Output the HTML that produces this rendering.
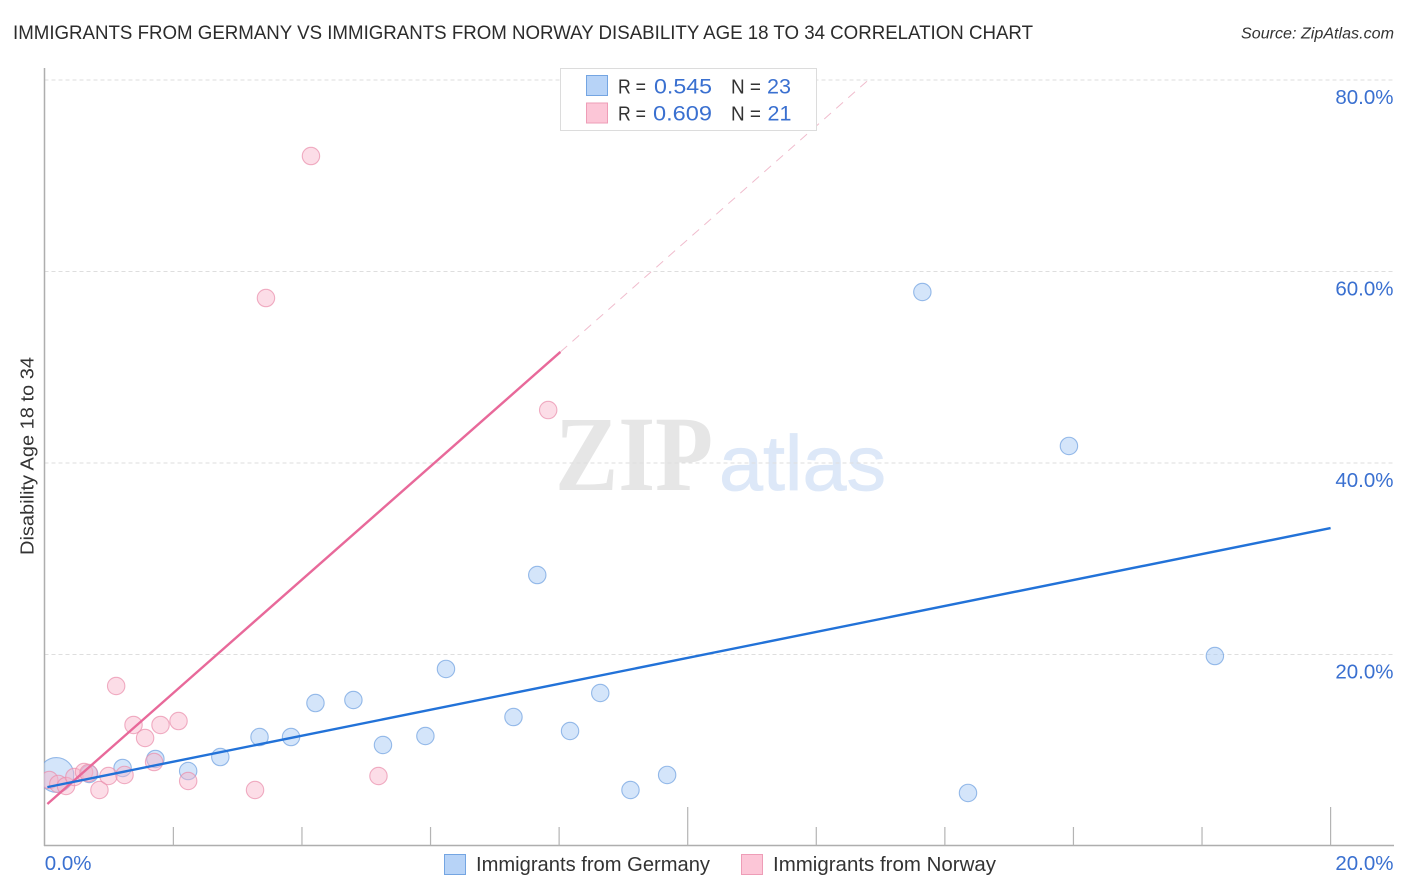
<!DOCTYPE html>
<html lang="en">
<head>
<meta charset="utf-8">
<title>Immigrants from Germany vs Immigrants from Norway Disability Age 18 to 34 Correlation Chart</title>
<style>
html,body{margin:0;padding:0;background:#fff;width:1406px;height:892px;overflow:hidden}
svg{display:block}
text{font-family:"Liberation Sans",sans-serif}
</style>
</head>
<body>
<svg id="chart" xmlns="http://www.w3.org/2000/svg" width="1406" height="892" viewBox="0 0 1406 892">
  <defs><clipPath id="plot-clip"><rect x="44" y="68" width="1350" height="778"/></clipPath></defs>
  <text x="13" y="39" font-size="19.5" fill="#2b2b2b" textLength="1020" lengthAdjust="spacingAndGlyphs">IMMIGRANTS FROM GERMANY VS IMMIGRANTS FROM NORWAY DISABILITY AGE 18 TO 34 CORRELATION CHART</text>
  <text x="1241" y="38.500" font-size="15.500" font-style="italic" fill="#333" textLength="153" lengthAdjust="spacingAndGlyphs">Source: ZipAtlas.com</text>
  <g>
    <text x="555" y="490" font-size="107" font-weight="bold" fill="#e6e6e6" textLength="158" lengthAdjust="spacingAndGlyphs" style="font-family:'Liberation Serif',serif">ZIP</text>
    <text x="719" y="490" font-size="78" fill="#dde8f8" stroke="#dde8f8" stroke-width="0.8" textLength="167" lengthAdjust="spacingAndGlyphs">atlas</text>
  </g>
  <g id="grid"></g>
  <g id="axes"></g>
  <g id="marks" clip-path="url(#plot-clip)"></g>
  <g id="trends"></g>
  <text transform="translate(33.500,555) rotate(-90)" font-size="18" fill="#333" textLength="198" lengthAdjust="spacingAndGlyphs">Disability Age 18 to 34</text>
  <g id="tick-labels"></g>

  <g>
    <rect x="560.500" y="68.500" width="256" height="62" fill="#fff" stroke="#dcdcdc" stroke-width="1"/>
    <rect x="586.500" y="75.500" width="21" height="20" fill="#b7d3f7" stroke="#74a5e2" stroke-width="1"/>
    <rect x="586.500" y="103" width="21" height="20" fill="#fcc6d7" stroke="#ee9db7" stroke-width="1"/>
    <text x="618" y="93.500" font-size="20" fill="#333" textLength="28" lengthAdjust="spacingAndGlyphs">R =</text>
    <text x="654" y="93.500" font-size="21.500" fill="#3a70d0" textLength="58" lengthAdjust="spacingAndGlyphs">0.545</text>
    <text x="731" y="93.500" font-size="20" fill="#333" textLength="30" lengthAdjust="spacingAndGlyphs">N =</text>
    <text x="767" y="93.500" font-size="21.500" fill="#3a70d0" textLength="24" lengthAdjust="spacingAndGlyphs">23</text>
    <text x="618" y="120.500" font-size="20" fill="#333" textLength="28" lengthAdjust="spacingAndGlyphs">R =</text>
    <text x="653" y="120.500" font-size="21.500" fill="#3a70d0" textLength="59" lengthAdjust="spacingAndGlyphs">0.609</text>
    <text x="731" y="120.500" font-size="20" fill="#333" textLength="30" lengthAdjust="spacingAndGlyphs">N =</text>
    <text x="767.500" y="120.500" font-size="21.500" fill="#3a70d0">21</text>
  </g>

  <g>
    <g>
      <rect x="444.500" y="854.500" width="21" height="20" fill="#b7d3f7" stroke="#74a5e2" stroke-width="1"/>
      <text x="476" y="871" font-size="20" fill="#333" textLength="234" lengthAdjust="spacingAndGlyphs">Immigrants from Germany</text>
    </g>
    <g>
      <rect x="741.500" y="854.500" width="21" height="20" fill="#fcc6d7" stroke="#ee9db7" stroke-width="1"/>
      <text x="773" y="871" font-size="20" fill="#333" textLength="223" lengthAdjust="spacingAndGlyphs">Immigrants from Norway</text>
    </g>
  </g>
</svg>
<script>
// ---- chart data (percent units) ----
const germanyX = [0.18,0.69,1.21,1.72,2.23,2.73,3.34,3.83,4.21,4.80,5.26,5.92,6.24,7.29,7.66,8.17,8.64,9.11,9.68,13.65,14.36,15.93,18.20];
const germanyY = [7.42,7.52,8.15,9.09,7.83,9.29,11.38,11.38,14.93,15.25,10.55,11.49,18.49,13.47,28.30,12.01,15.98,5.85,7.42,57.86,5.54,41.78,19.84];
const germanyWeight = [4,1,1,1,1,1,1,1,1,1,1,1,1,1,1,1,1,1,1,1,1,1,1];
const norwayX = [0.07,0.21,0.33,0.46,0.61,0.68,0.85,0.99,1.24,1.11,1.38,1.56,1.70,1.80,2.08,2.23,3.27,3.44,4.14,5.19,7.83];
const norwayY = [6.89,6.48,6.27,7.21,7.73,7.62,5.85,7.31,7.42,16.71,12.64,11.28,8.77,12.64,13.05,6.79,5.85,57.23,72.06,7.31,45.53];
const germanyTrendX = [0.04,20];
const germanyTrendY = [6.15,33.2];
const norwayTrendX = [0.04,8.02];
const norwayTrendY = [4.39,51.6];
const norwayDashX = [8.02,12.81];
const norwayDashY = [51.6,80];
const yTicks = [20,40,60,80];
const yTickLabels = ["20.0%","40.0%","60.0%","80.0%"];
const xMinorTicks = [2,4,6,8,10,12,14,16,18,20];
const xMajorTicks = [10,20];
const xTickLabels = ["0.0%","20.0%"];

// ---- axis functions ----
function xScale(v){ return 44.8 + v * 64.29; }
function yScale(v){ return 846 - v * 9.575; }

const NS = 'http://www.w3.org/2000/svg';
function make(tag, parent, attrs){
  const el = document.createElementNS(NS, tag);
  for (const k in attrs) el.setAttribute(k, attrs[k]);
  parent.appendChild(el);
  return el;
}

const grid = document.getElementById('grid');
const axes = document.getElementById('axes');
const marks = document.getElementById('marks');
const trends = document.getElementById('trends');
const tickLabels = document.getElementById('tick-labels');

yTicks.forEach(function(t, i){
  const yy = yScale(t);
  const g = make('line', grid, {x1:44.5, x2:1394, y1:yy, y2:yy, stroke:'#dedede', 'stroke-width':1, 'stroke-dasharray':'4 3'});
  
  
  const lab = make('text', tickLabels, {x:1393.5, y:yy + 24, 'text-anchor':'end', 'font-size':20.5, fill:'#3a70d0'});
  lab.textContent = yTickLabels[i];
  
  
});

const yAxis = make('line', axes, {x1:44.5, x2:44.5, y1:68, y2:846, stroke:'#aeaeae', 'stroke-width':1.5});


const xAxis = make('line', axes, {x1:44, x2:1394, y1:845.5, y2:845.5, stroke:'#aeaeae', 'stroke-width':1.5});



xMinorTicks.forEach(function(t){
  const xx = xScale(t);
  const top = xMajorTicks.indexOf(t) >= 0 ? 807 : 827;
  const tick = make('line', axes, {x1:xx, x2:xx, y1:top, y2:845.5, stroke:'#b4b4b4', 'stroke-width':1.2});
  
  
});

const xLab0 = make('text', tickLabels, {x:xScale(0), y:870, 'font-size':20.5, fill:'#3a70d0'});
xLab0.textContent = xTickLabels[0];


const xLab1 = make('text', tickLabels, {x:1393.5, y:870, 'text-anchor':'end', 'font-size':20.5, fill:'#3a70d0'});
xLab1.textContent = xTickLabels[1];



germanyX.forEach(function(v, i){
  const c = make('circle', marks, {cx:xScale(v), cy:yScale(germanyY[i]), r:8.7 * Math.sqrt(germanyWeight[i]), fill:'#a9cbf5', 'fill-opacity':0.5, stroke:'#6d9fe0', 'stroke-opacity':0.7, 'stroke-width':1.1});
  
  
});
norwayX.forEach(function(v, i){
  const c = make('circle', marks, {cx:xScale(v), cy:yScale(norwayY[i]), r:8.7, fill:'#f8b4ca', 'fill-opacity':0.45, stroke:'#ea8dab', 'stroke-opacity':0.7, 'stroke-width':1.1});
  
  
});

const pinkDash = make('line', trends, {x1:xScale(norwayDashX[0]), y1:yScale(norwayDashY[0]), x2:xScale(norwayDashX[1]), y2:yScale(norwayDashY[1]), stroke:'#f0bccd', 'stroke-width':1, 'stroke-dasharray':'9 7'});


const pinkLine = make('line', trends, {x1:xScale(norwayTrendX[0]), y1:yScale(norwayTrendY[0]), x2:xScale(norwayTrendX[1]), y2:yScale(norwayTrendY[1]), stroke:'#e8699a', 'stroke-width':2.4});


const blueLine = make('line', trends, {x1:xScale(germanyTrendX[0]), y1:yScale(germanyTrendY[0]), x2:xScale(germanyTrendX[1]), y2:yScale(germanyTrendY[1]), stroke:'#2272d8', 'stroke-width':2.4});


</script>
</body>
</html>
